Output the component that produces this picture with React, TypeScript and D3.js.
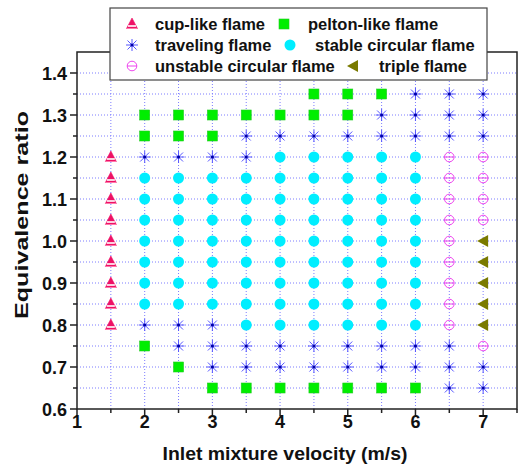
import React from "react";
import * as d3 from "d3";

const W = 522;
const H = 467;
const M = { left: 77, right: 5, top: 52, bottom: 58 };

const X_DOMAIN: [number, number] = [1, 7.5];
const Y_DOMAIN: [number, number] = [0.6, 1.45];
const X_TICKS = [1, 2, 3, 4, 5, 6, 7];
const Y_TICKS = [0.6, 0.7, 0.8, 0.9, 1.0, 1.1, 1.2, 1.3, 1.4];
const X_GRID = [1.5, 2, 2.5, 3, 3.5, 4, 4.5, 5, 5.5, 6, 6.5, 7];
const Y_GRID = [0.65, 0.7, 0.75, 0.8, 0.85, 0.9, 0.95, 1.0, 1.05, 1.1, 1.15, 1.2, 1.25, 1.3, 1.35, 1.4];

type Col = [number, number[]];

const cupLike: Col[] = [[1.5, [0.8, 0.85, 0.9, 0.95, 1.0, 1.05, 1.1, 1.15, 1.2]]];
const peltonLike: Col[] = [
  [2, [0.75, 1.25, 1.3]],
  [2.5, [0.7, 1.25, 1.3]],
  [3, [0.65, 1.25, 1.3]],
  [3.5, [0.65, 1.3]],
  [4, [0.65, 1.3]],
  [4.5, [0.65, 1.3, 1.35]],
  [5, [0.65, 1.3, 1.35]],
  [5.5, [0.65, 1.35]],
  [6, [0.65]],
];
const traveling: Col[] = [
  [2, [0.8, 1.2]],
  [2.5, [0.75, 0.8, 1.2]],
  [3, [0.7, 0.75, 0.8, 1.2]],
  [3.5, [0.7, 0.75, 1.2, 1.25]],
  [4, [0.7, 0.75, 1.25]],
  [4.5, [0.7, 0.75, 1.25]],
  [5, [0.7, 0.75, 1.25]],
  [5.5, [0.7, 0.75, 1.25, 1.3]],
  [6, [0.7, 0.75, 1.25, 1.3, 1.35]],
  [6.5, [0.65, 0.7, 0.75, 1.25, 1.3, 1.35]],
  [7, [0.65, 0.7, 1.25, 1.3, 1.35]],
];
const stableCircular: Col[] = [
  [2, [0.85, 0.9, 0.95, 1.0, 1.05, 1.1, 1.15]],
  [2.5, [0.85, 0.9, 0.95, 1.0, 1.05, 1.1, 1.15]],
  [3, [0.85, 0.9, 0.95, 1.0, 1.05, 1.1, 1.15]],
  [3.5, [0.8, 0.85, 0.9, 0.95, 1.0, 1.05, 1.1, 1.15]],
  [4, [0.8, 0.85, 0.9, 0.95, 1.0, 1.05, 1.1, 1.15, 1.2]],
  [4.5, [0.8, 0.85, 0.9, 0.95, 1.0, 1.05, 1.1, 1.15, 1.2]],
  [5, [0.8, 0.85, 0.9, 0.95, 1.0, 1.05, 1.1, 1.15, 1.2]],
  [5.5, [0.8, 0.85, 0.9, 0.95, 1.0, 1.05, 1.1, 1.15, 1.2]],
  [6, [0.8, 0.85, 0.9, 0.95, 1.0, 1.05, 1.1, 1.15, 1.2]],
];
const unstableCircular: Col[] = [
  [6.5, [0.8, 0.85, 0.9, 0.95, 1.0, 1.05, 1.1, 1.15, 1.2]],
  [7, [0.75, 1.05, 1.1, 1.15, 1.2]],
];
const tripleFlame: Col[] = [[7, [0.8, 0.85, 0.9, 0.95, 1.0]]];

type Kind = "cup" | "pelton" | "travel" | "stable" | "unstable" | "triple";

const SERIES: { kind: Kind; label: string; cols: Col[] }[] = [
  { kind: "cup", label: "cup-like flame", cols: cupLike },
  { kind: "pelton", label: "pelton-like flame", cols: peltonLike },
  { kind: "travel", label: "traveling flame", cols: traveling },
  { kind: "stable", label: "stable circular flame", cols: stableCircular },
  { kind: "unstable", label: "unstable circular flame", cols: unstableCircular },
  { kind: "triple", label: "triple flame", cols: tripleFlame },
];

const FONT = "'Liberation Sans', Arial, sans-serif";

function Marker({ kind, x, y }: { kind: Kind; x: number; y: number }) {
  switch (kind) {
    case "cup":
      return (
        <g transform={`translate(${x},${y})`}>
          <path d="M0,-6 L5.5,4.5 L-5.5,4.5 Z" fill="#ee1166" stroke="#ee1166" strokeWidth={0.6} />
          <rect x={-4} y={1.2} width={8} height={1.6} fill="#ffffff" />
          <path d="M-5.5,4.5 L5.5,4.5" stroke="#ff77aa" strokeWidth={1} />
        </g>
      );
    case "pelton":
      return <rect x={x - 5} y={y - 5} width={10} height={10} fill="#00ee00" stroke="#22cc22" strokeWidth={0.6} />;
    case "travel":
      return (
        <g transform={`translate(${x},${y})`} stroke="#5555ff" strokeWidth={1}>
          <line x1={-6} y1={0} x2={6} y2={0} />
          <line x1={0} y1={-6} x2={0} y2={6} />
          <line x1={-4.5} y1={-4.5} x2={4.5} y2={4.5} />
          <line x1={-4.5} y1={4.5} x2={4.5} y2={-4.5} />
          <circle r={1.6} fill="#0000aa" stroke="none" />
        </g>
      );
    case "stable":
      return <circle cx={x} cy={y} r={5.5} fill="#00eeff" />;
    case "unstable":
      return (
        <g transform={`translate(${x},${y})`} stroke="#ee44ee" strokeWidth={1} fill="none">
          <circle r={4.8} />
          <line x1={-4.8} y1={0} x2={4.8} y2={0} />
        </g>
      );
    case "triple":
      return <path d={`M${x - 6},${y} L${x + 5},${y - 6} L${x + 5},${y + 6} Z`} fill="#7a7a00" />;
  }
  return null;
}

export default function App() {
  const x = d3.scaleLinear().domain(X_DOMAIN).range([M.left, W - M.right]);
  const y = d3.scaleLinear().domain(Y_DOMAIN).range([H - M.bottom, M.top]);
  const [x0, x1] = x.range();
  const [y0, y1] = y.range();
  const gridColor = "#7c7cff";
  const axisColor = "#222";

  const legendRows = [
    [
      { s: SERIES[0], mx: 132, tx: 155 },
      { s: SERIES[1], mx: 284, tx: 308 },
    ],
    [
      { s: SERIES[2], mx: 132, tx: 155 },
      { s: SERIES[3], mx: 290, tx: 315 },
    ],
    [
      { s: SERIES[4], mx: 132, tx: 155 },
      { s: SERIES[5], mx: 353, tx: 379 },
    ],
  ];
  const legendY = [24, 45, 66];

  return (
    <div style={{ position: "absolute", left: 0, top: 0 }}>
      <svg width={W} height={H} style={{ display: "block", background: "#fff" }} fontFamily={FONT}>
        <rect width={W} height={H} fill="#fff" />
        {/* grid */}
        {X_GRID.map((g) => (
          <line key={"gx" + g} x1={x(g)} x2={x(g)} y1={y0} y2={y1} stroke={gridColor} strokeWidth={1} strokeDasharray="1,2" />
        ))}
        {Y_GRID.map((g) => (
          <line key={"gy" + g} x1={x0} x2={x1} y1={y(g)} y2={y(g)} stroke={gridColor} strokeWidth={1} strokeDasharray="1,2" />
        ))}
        {/* markers */}
        {SERIES.map((s) =>
          s.cols.flatMap(([cx, ys]) =>
            ys.map((v) => <Marker key={s.kind + cx + "_" + v} kind={s.kind} x={x(cx)} y={y(v)} />)
          )
        )}
        {/* frame */}
        <rect x={x0} y={y1} width={x1 - x0} height={y0 - y1} fill="none" stroke={axisColor} strokeWidth={1.5} />
        {/* x ticks */}
        {X_GRID.concat([1, 7.5]).map((t) => {
          const major = X_TICKS.includes(t);
          return <line key={"xt" + t} x1={x(t)} x2={x(t)} y1={y0} y2={y0 + (major ? 7 : 4)} stroke={axisColor} strokeWidth={1.5} />;
        })}
        {X_TICKS.map((t) => (
          <text key={"xl" + t} x={x(t)} y={y0 + 19} textAnchor="middle" fontSize={18} fontWeight="bold" fill="#111">
            {t}
          </text>
        ))}
        {/* y ticks */}
        {Y_GRID.concat([0.6]).map((t) => {
          const major = Y_TICKS.some((v) => Math.abs(v - t) < 1e-9);
          return <line key={"yt" + t} x1={x0 - (major ? 7 : 4)} x2={x0} y1={y(t)} y2={y(t)} stroke={axisColor} strokeWidth={1.5} />;
        })}
        {Y_TICKS.map((t) => (
          <text key={"yl" + t} x={x0 - 10} y={y(t) + 6.5} textAnchor="end" fontSize={18} fontWeight="bold" fill="#111">
            {d3.format(".1f")(t)}
          </text>
        ))}
        {/* axis titles */}
        <text x={285} y={460} textAnchor="middle" fontSize={19} fontWeight="bold" fill="#111" textLength={245} lengthAdjust="spacingAndGlyphs">
          Inlet mixture velocity (m/s)
        </text>
        <text transform={`translate(28,215) rotate(-90)`} textAnchor="middle" fontSize={19} fontWeight="bold" fill="#111" textLength={208} lengthAdjust="spacingAndGlyphs">
          Equivalence ratio
        </text>
        {/* legend */}
        <rect x={110} y={8} width={377} height={72} fill="#fff" stroke="#444" strokeWidth={1.2} />
        {legendRows.map((row, i) =>
          row.map((it) => (
            <g key={it.s.kind}>
              <Marker kind={it.s.kind} x={it.mx} y={legendY[i]} />
              <text x={it.tx} y={legendY[i] + 5.5} fontSize={16.5} fontWeight="bold" fill="#111">
                {it.s.label}
              </text>
            </g>
          ))
        )}
      </svg>
    </div>
  );
}
